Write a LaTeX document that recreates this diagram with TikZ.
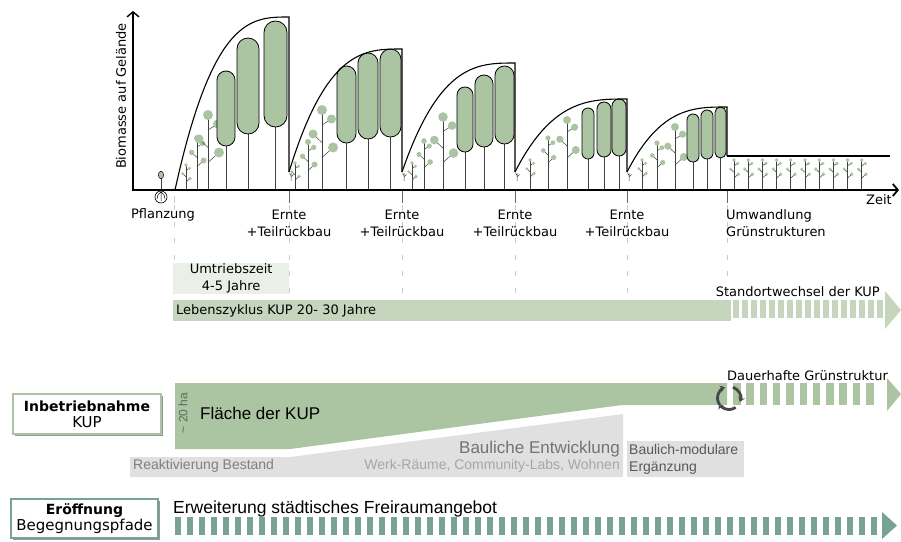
\documentclass[tikz,border=0pt]{standalone}
\usepackage{fontspec}
\setmainfont{DejaVu Sans}
\newfontfamily\arialfont{Liberation Sans}
\usetikzlibrary{arrows.meta}

\definecolor{sage}{RGB}{171,196,161}
\definecolor{sagelight}{RGB}{197,213,190}
\definecolor{sagepale}{RGB}{234,240,230}
\definecolor{guidegreen}{RGB}{196,207,191}
\definecolor{pathteal}{RGB}{120,163,148}
\definecolor{buildgray}{RGB}{224,224,224}
\definecolor{shadowgray}{RGB}{150,150,150}

% young tree: x, top of stem, size
\newcommand{\youngtree}[3]{%
  \draw[trunk] (#1,190) -- (#1,#2);
  \draw[twig] (#1,#2+3*#3) -- (#1+1.9*#3,#2+1.8*#3)
              (#1,#2+6.5*#3) -- (#1-1.8*#3,#2+4.8*#3)
              (#1,#2+9.5*#3) -- (#1+2.2*#3,#2+7.5*#3);
  \fill[leafdot] (#1,#2) circle (#3);
  \fill[leafdot] (#1+1.9*#3,#2+1.8*#3) circle (0.9*#3);
  \fill[leafdot] (#1-1.8*#3,#2+4.8*#3) circle (0.9*#3);
  \fill[leafdot] (#1+2.2*#3,#2+7.5*#3) circle (#3);
}
% grown poplar: left, right, top, bottom of crown
\newcommand{\poplar}[4]{%
  \pgfmathsetmacro\crownr{(#2-#1)/2-0.05}
  \draw[trunk] ({(#1+#2)/2},#4) -- ({(#1+#2)/2},190);
  \draw[capsule,rounded corners=\crownr pt] (#1,#3) rectangle (#2,#4);
}
% stump left after harvest
\newcommand{\stump}[1]{%
  \draw[twig] (#1,181) -- (#1,173) (#1,177) -- (#1+2.5,174.5) (#1,175.5) -- (#1-1.5,173.5);
}

\begin{document}
\begin{tikzpicture}[x=1pt,y=-1pt,>=stealth,
  curve/.style={line width=1.1pt},
  trunk/.style={line width=0.8pt,black!75},
  twig/.style={line width=0.5pt,black!75},
  capsule/.style={draw=black,line width=0.8pt,fill=sage},
  leafdot/.style={fill=sage},
  guide/.style={guidegreen,line width=1pt,dash pattern=on 5pt off 11.5pt},
  tick/.style={black!45!sage,line width=1pt},
  lbl/.style={font=\fontsize{13}{17}\selectfont,align=center,inner sep=0pt},
  note/.style={font=\arialfont\fontsize{14}{17}\selectfont,inner sep=0pt},
  panel/.style={draw=#1,line width=2pt,fill=white,minimum width=148pt,minimum height=40pt,
    anchor=north west,inner sep=0pt,align=center,font=\fontsize{15}{16}\selectfont},
  shadow/.style={fill=shadowgray,minimum width=148pt,minimum height=40pt,anchor=north west,inner sep=0pt},
  turn/.style={black!72,line width=2.8pt,-{Stealth[length=5pt,width=7pt]}}]
\useasboundingbox (0,0) rectangle (901,541);

% guides below the time axis
\foreach \x in {174,289,402,515,627,727}
  \draw[guide] (\x,205) -- (\x,298);
\draw[guidegreen,line width=1pt] (174,196) -- (174,203);
\foreach \x in {289,402,515,627,727}
  \draw[tick] (\x,191) -- (\x,203);

% trees of the five rotations
\foreach \x/\t/\s in {186/165/1.8, 197/138/3, 208/115/5,
                      295/163/1.8, 308/142/3, 322/110/5,
                      412/163/1.8, 424/141/2.8, 443/117/4.8,
                      530/160/1.8, 548/138/2.6, 567/120/4,
                      642/160/1.8, 657/143/2.6, 675/127/4}
  \youngtree{\x}{\t}{\s};
\foreach \xa/\xb/\ya/\yb in {217/235/71/146, 237/259/38/134, 264/287/21/127,
                             337/356/66/143, 358/378/53/139, 380/401/49/137,
                             457/473/87/152, 475/493/75/147, 495/514/66/144,
                             582/594/108/159, 597/611/102/157, 612/626/99/156,
                             687/699/114/162, 701/713/110/159, 715/726/107/158}
  \poplar{\xa}{\xb}{\ya}{\yb};
\foreach \x in {291,404,517,629}
  \stump{\x};
\foreach \i in {0,...,9}
  \youngtree{734+14.2*\i}{160}{1.9};

% biomass envelope
\foreach \xa/\ya/\xb/\yt/\yd in {175/190/289/17/172, 289/172/402/49/172, 402/172/515/63/172,
                                 515/172/627/99/172, 627/172/727/107/156}
  \draw[curve] (\xa,\ya) .. controls ({\xa+(\xb-\xa)/3},\yt) and ({\xa+2*(\xb-\xa)/3},\yt) .. (\xb,\yt) -- (\xb,\yd);
\draw[curve] (727,156) -- (890,156);

% planting symbol
\draw[trunk] (161,190) -- (161,179);
\draw[line width=0.5pt,fill=sage] (161,175) ellipse (2.6 and 3.8);
\draw[line width=0.6pt,fill=white] (161,197) circle (6);
\draw[line width=0.5pt] (161,191) -- (161,201)
  (161,192) .. controls (158,194) .. (157,199)
  (161,192) .. controls (164,194) .. (165,199);

% axes
\draw[line width=1.4pt,-{Straight Barb[length=5pt,width=12pt]}] (133,191) -- (133,11);
\draw[line width=1.8pt,-{Straight Barb[length=5pt,width=12pt]}] (132,190) -- (899,190);
\node[lbl,rotate=90] (biomasse) at (121,96) {Biomasse auf Gelände};
\node[lbl] (zeit) at (879,200) {Zeit};

\node[lbl] (pflanzung) at (163,215) {Pflanzung};
\foreach \x [count=\i] in {289,402,515,627}
  \node[lbl] (ernte\i) at (\x,223.5) {Ernte\\+Teilrückbau};
\node[lbl,anchor=west,align=left] (umwandlung) at (726,223.5) {Umwandlung\\Grünstrukturen};

% rotation and life cycle
\node[lbl,fill=sagepale,minimum width=116pt,minimum height=31pt,anchor=north west] (umtrieb) at (173,263) {Umtriebszeit\\4-5 Jahre};
\node[fill=sagelight,minimum width=558pt,minimum height=21pt,anchor=north west,inner sep=0pt] (zyklus) at (173,300) {};
\node[lbl,anchor=west] (zyklustext) at ([xshift=3pt]zyklus.west) {Lebenszyklus KUP 20- 30 Jahre};
\foreach \i in {0,...,16}
  \fill[sagelight] ({733+9*\i},300) rectangle ++(5.5,18);
\fill[sagelight] (885,291) -- (901,310) -- (885,329) -- cycle;
\node[lbl,anchor=east] (standort) at (880,292) {Standortwechsel der KUP};

% site area and building development
\node[shadow] at (15,396) {};
\node[panel=sage] (inbetrieb) at (12,393) {{\bfseries\fontsize{14}{16}\selectfont Inbetriebnahme}\\KUP};
\fill[sage] (175,383) -- (727,383) -- (727,405) -- (622,405) -- (290,449) -- (175,449) -- cycle;
\foreach \i in {0,...,10}
  \fill[sage] ({733+13.3*\i},383) rectangle ++(7.5,22);
\fill[sage] (887,378) -- (901,394) -- (887,411) -- cycle;
\node[note,rotate=90,font=\arialfont\fontsize{12}{14}\selectfont,text=black!45!sage] (ha) at (183,413) {\textasciitilde{} 20 ha};
\node[note,anchor=west,font=\arialfont\fontsize{17}{20}\selectfont] (flaeche) at (200,413) {Fläche der KUP};

\coordinate (cyc) at (729,398);
\foreach \a/\b in {-215/-110, -70/20, 55/150}
  \draw[turn] (cyc) ++(\a:11.5) arc[start angle=\a,end angle=\b,radius=11.5];
\node[lbl,anchor=west] (dauer) at (727,376) {Dauerhafte Grünstruktur};

\fill[buildgray] (130,457) -- (290,457) -- (623,414) -- (623,477) -- (130,477) -- cycle;
\node[note,anchor=east,font=\arialfont\fontsize{17}{20}\selectfont,text=black!55] (bau) at (620,449) {Bauliche Entwicklung};
\node[note,anchor=east,text=black!35] (werk) at (620,466) {Werk-Räume, Community-Labs, Wohnen};
\node[note,anchor=west,text=black!50] (bestand) at (133,466) {Reaktivierung Bestand};
\node[fill=buildgray,minimum width=117pt,minimum height=36pt,anchor=north west,inner sep=0pt] (modular) at (627,441) {};
\node[note,anchor=west,align=left,text=black!65] (modulartext) at ([xshift=2pt]modular.west) {Baulich-modulare\\Ergänzung};

% paths through the site
\node[shadow,minimum width=147pt,minimum height=39pt] at (13,501) {};
\node[panel=pathteal,minimum width=147pt,minimum height=39pt] (eroeffnung) at (10,498) {{\bfseries\fontsize{14}{16}\selectfont Eröffnung}\\Begegnungspfade};
\node[note,anchor=west,font=\arialfont\fontsize{17.5}{20}\selectfont] (freiraum) at (173,509) {Erweiterung städtisches Freiraumangebot};
\foreach \i in {0,...,58}
  \fill[pathteal] ({175+12*\i},517) rectangle ++(6,18);
\fill[pathteal] (882,512) -- (897,525.5) -- (882,539) -- cycle;
\end{tikzpicture}
\end{document}
